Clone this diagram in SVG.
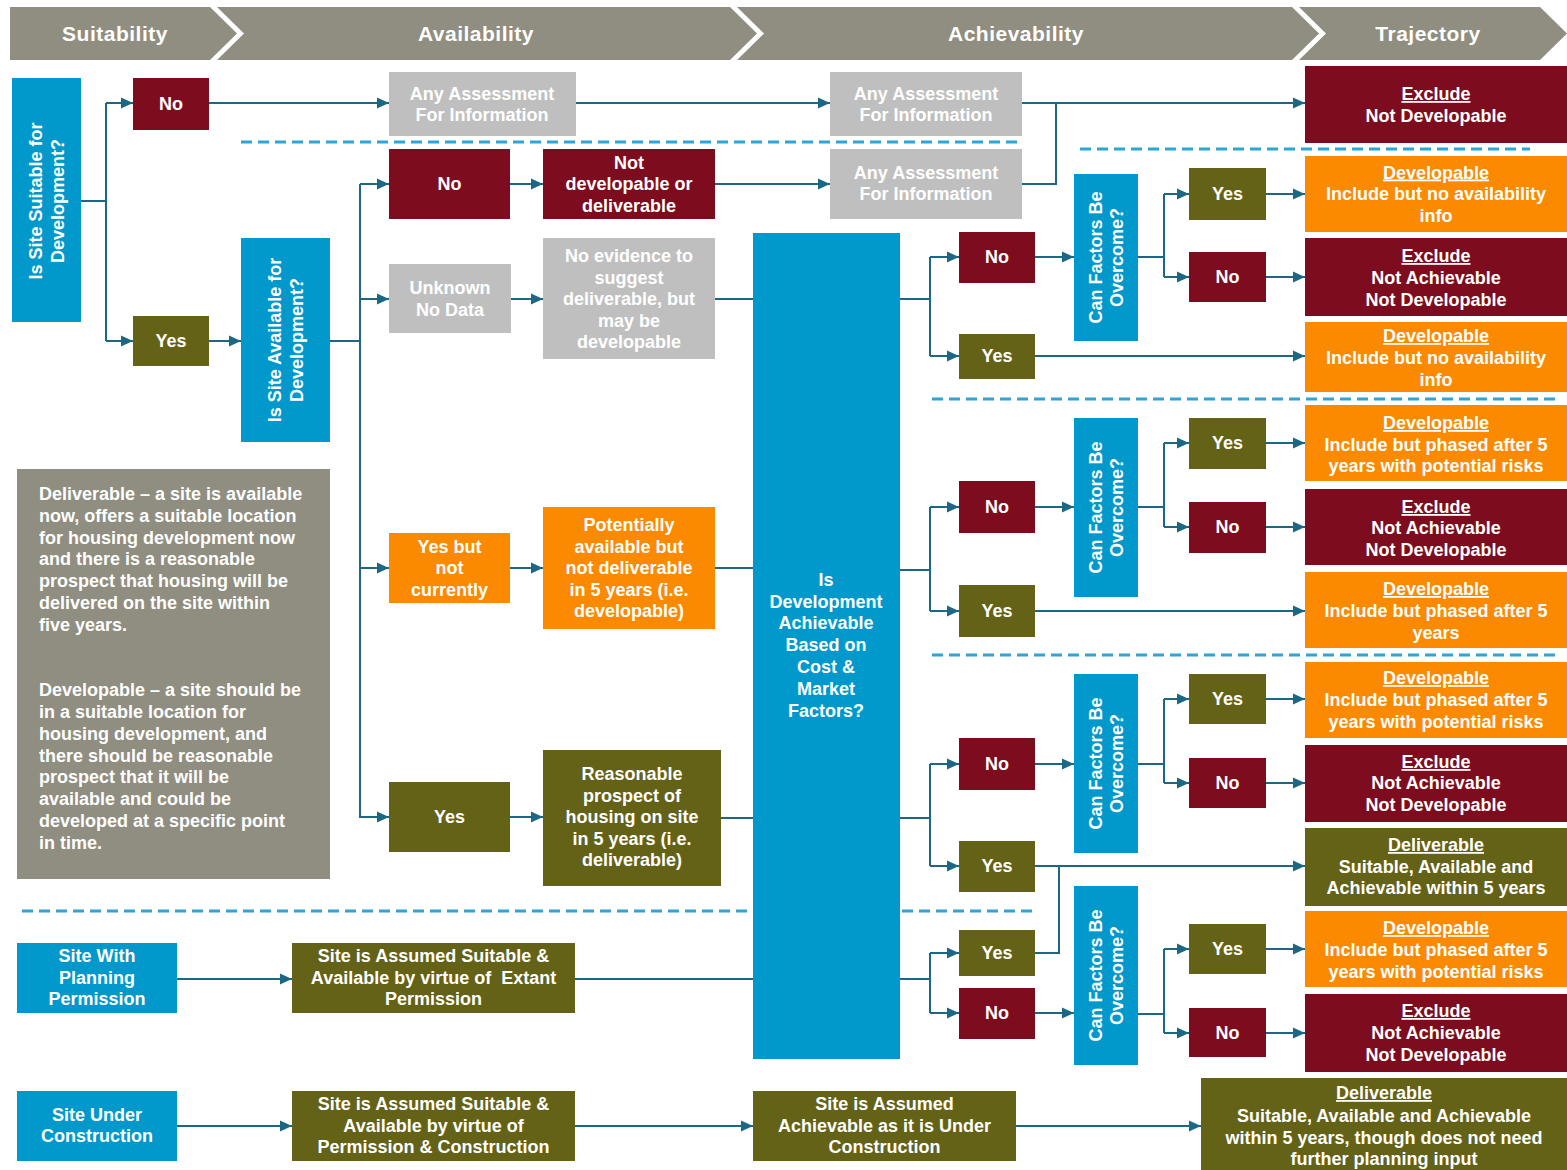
<svg xmlns="http://www.w3.org/2000/svg" width="1567" height="1170" viewBox="0 0 1567 1170">
<style>
.b{fill:#0199CB}.r{fill:#7D0D1E}.o{fill:#646217}.or{fill:#FB8A00}.g{fill:#BFBFBF}.lg{fill:#8F8E80}
text{font-family:"Liberation Sans",Arial,sans-serif;font-weight:bold;font-size:18px;fill:#FFFFFF}
.t{text-anchor:middle}
.h{font-size:21px;letter-spacing:0.5px;text-anchor:middle}
.u{text-decoration:underline}
.conn path{fill:none;stroke:#1C6884;stroke-width:2}
.conn path.a{marker-end:url(#ah)}
.dash line{stroke:#2BA6D7;stroke-width:3;stroke-dasharray:11 6}
</style>
<defs>
<marker id="ah" markerUnits="userSpaceOnUse" markerWidth="12" markerHeight="12" refX="12" refY="6" orient="auto">
<path d="M0,0.5 L12,6 L0,11.5 z" fill="#1C6884"/>
</marker>
</defs>
<rect width="1567" height="1170" fill="#FFFFFF"/>

<g id="header">
<path class="lg" d="M10,7 H210 L237,33.5 L210,60 H10 Z"/>
<path class="lg" d="M217,7 H730 L757,33.5 L730,60 H217 L244,33.5 Z"/>
<path class="lg" d="M737,7 H1292 L1319,33.5 L1292,60 H737 L764,33.5 Z"/>
<path class="lg" d="M1299,7 H1540 L1567,33.5 L1540,60 H1299 L1326,33.5 Z"/>
<text class="h" x="115" y="41">Suitability</text>
<text class="h" x="476" y="41">Availability</text>
<text class="h" x="1016" y="41">Achievability</text>
<text class="h" x="1428" y="41">Trajectory</text>
</g>

<g class="dash" id="dividers">
<line x1="241" y1="142" x2="1022" y2="142"/>
<line x1="1080" y1="149" x2="1530" y2="149"/>
<line x1="932" y1="399" x2="1555" y2="399"/>
<line x1="932" y1="655" x2="1555" y2="655"/>
<line x1="22" y1="911" x2="749" y2="911"/>
<line x1="902" y1="911" x2="1035" y2="911"/>
</g>

<g class="conn" id="connectors">
<path d="M81,201 H106 M106,103 V341"/>
<path class="a" d="M106,103 H133"/>
<path class="a" d="M106,341 H133"/>
<path class="a" d="M209,341 H241"/>
<path class="a" d="M209,103 H389"/>
<path class="a" d="M576,103 H830"/>
<path class="a" d="M1022,103 H1305"/>
<path d="M1022,184 H1056 V103"/>
<path d="M330,341 H360 M360,184 V818"/>
<path class="a" d="M360,184 H389"/>
<path class="a" d="M360,299 H389"/>
<path class="a" d="M360,568 H389"/>
<path class="a" d="M360,817 H389"/>
<path class="a" d="M510,184 H543"/>
<path class="a" d="M715,184 H830"/>
<path class="a" d="M511,299 H543"/>
<path d="M715,299 H753"/>
<path class="a" d="M510,568 H543"/>
<path d="M715,568 H753"/>
<path class="a" d="M510,817 H543"/>
<path d="M721,818 H753"/>
<!-- group 1 -->
<path d="M900,299 H930 M930,257 V356"/>
<path class="a" d="M930,257 H959"/>
<path class="a" d="M930,356 H959"/>
<path class="a" d="M1035,257 H1074"/>
<path d="M1138,257 H1164 M1164,194 V277"/>
<path class="a" d="M1164,194 H1189"/>
<path class="a" d="M1164,277 H1189"/>
<path class="a" d="M1266,194 H1305"/>
<path class="a" d="M1266,277 H1305"/>
<path class="a" d="M1035,356 H1305"/>
<!-- group 2 -->
<path d="M900,570 H930 M930,507 V611"/>
<path class="a" d="M930,507 H959"/>
<path class="a" d="M930,611 H959"/>
<path class="a" d="M1035,507 H1074"/>
<path d="M1138,507 H1164 M1164,443 V527"/>
<path class="a" d="M1164,443 H1189"/>
<path class="a" d="M1164,527 H1189"/>
<path class="a" d="M1266,443 H1305"/>
<path class="a" d="M1266,527 H1305"/>
<path class="a" d="M1035,611 H1305"/>
<!-- group 3 -->
<path d="M900,818 H930 M930,764 V866"/>
<path class="a" d="M930,764 H959"/>
<path class="a" d="M930,866 H959"/>
<path class="a" d="M1035,764 H1074"/>
<path d="M1138,764 H1164 M1164,699 V783"/>
<path class="a" d="M1164,699 H1189"/>
<path class="a" d="M1164,783 H1189"/>
<path class="a" d="M1266,699 H1305"/>
<path class="a" d="M1266,783 H1305"/>
<path class="a" d="M1035,866 H1305"/>
<!-- group 4 -->
<path d="M900,979 H930 M930,953 V1013"/>
<path class="a" d="M930,953 H959"/>
<path class="a" d="M930,1013 H959"/>
<path d="M1035,953 H1059 V866"/>
<path class="a" d="M1035,1013 H1074"/>
<path d="M1138,1014 H1164 M1164,949 V1033"/>
<path class="a" d="M1164,949 H1189"/>
<path class="a" d="M1164,1033 H1189"/>
<path class="a" d="M1266,949 H1305"/>
<path class="a" d="M1266,1033 H1305"/>
<!-- bottom rows -->
<path class="a" d="M177,979 H292"/>
<path d="M575,979 H753"/>
<path class="a" d="M177,1126 H292"/>
<path class="a" d="M575,1126 H753"/>
<path class="a" d="M1016,1126 H1201"/>
</g>

<g id="n_suitable">
<rect class="b" x="12" y="78" width="69" height="244"/>
<text class="t" transform="translate(46.5,201) rotate(-90)"><tspan x="0" y="-4.5">Is Site Suitable for</tspan><tspan x="0" y="17">Development?</tspan></text>
</g>
<g id="n_no1"><rect class="r" x="133" y="78" width="76" height="52"/><text class="t" x="171" y="110">No</text></g>
<g id="n_yes1"><rect class="o" x="133" y="316" width="76" height="50"/><text class="t" x="171" y="347">Yes</text></g>
<g id="n_available">
<rect class="b" x="241" y="238" width="89" height="204"/>
<text class="t" transform="translate(285.5,340) rotate(-90)"><tspan x="0" y="-4.5">Is Site Available for</tspan><tspan x="0" y="17">Development?</tspan></text>
</g>
<g id="n_any1"><rect class="g" x="389" y="72" width="187" height="64"/><text class="t"><tspan x="482" y="99.5">Any Assessment</tspan><tspan x="482" y="121">For Information</tspan></text></g>
<g id="n_no2"><rect class="r" x="389" y="149" width="121" height="70"/><text class="t" x="449.5" y="190">No</text></g>
<g id="n_notdev"><rect class="r" x="543" y="149" width="172" height="70"/><text class="t"><tspan x="629" y="168.5">Not</tspan><tspan x="629" y="190">developable or</tspan><tspan x="629" y="211.5">deliverable</tspan></text></g>
<g id="n_unknown"><rect class="g" x="389" y="264" width="122" height="69"/><text class="t"><tspan x="450" y="294">Unknown</tspan><tspan x="450" y="315.5">No Data</tspan></text></g>
<g id="n_noevidence"><rect class="g" x="543" y="238" width="172" height="121"/><text class="t"><tspan x="629" y="262">No evidence to</tspan><tspan x="629" y="283.5">suggest</tspan><tspan x="629" y="305">deliverable, but</tspan><tspan x="629" y="326.5">may be</tspan><tspan x="629" y="348">developable</tspan></text></g>
<g id="n_yesbut"><rect class="or" x="389" y="533" width="121" height="70"/><text class="t"><tspan x="449.5" y="552.5">Yes but</tspan><tspan x="449.5" y="574">not</tspan><tspan x="449.5" y="595.5">currently</tspan></text></g>
<g id="n_potential"><rect class="or" x="543" y="507" width="172" height="122"/><text class="t"><tspan x="629" y="531">Potentially</tspan><tspan x="629" y="552.5">available but</tspan><tspan x="629" y="574">not deliverable</tspan><tspan x="629" y="595.5">in 5 years (i.e.</tspan><tspan x="629" y="617">developable)</tspan></text></g>
<g id="n_yes2"><rect class="o" x="389" y="782" width="121" height="70"/><text class="t" x="449.5" y="823">Yes</text></g>
<g id="n_reasonable"><rect class="o" x="543" y="750" width="178" height="136"/><text class="t"><tspan x="632" y="780">Reasonable</tspan><tspan x="632" y="801.5">prospect of</tspan><tspan x="632" y="823">housing on site</tspan><tspan x="632" y="844.5">in 5 years (i.e.</tspan><tspan x="632" y="866">deliverable)</tspan></text></g>
<g id="n_legend"><rect class="lg" x="17" y="469" width="313" height="410"/>
<text><tspan x="39" y="500">Deliverable – a site is available</tspan><tspan x="39" y="522">now, offers a suitable location</tspan><tspan x="39" y="543.5">for housing development now</tspan><tspan x="39" y="565">and there is a reasonable</tspan><tspan x="39" y="587">prospect that housing will be</tspan><tspan x="39" y="609">delivered on the site within</tspan><tspan x="39" y="631">five years.</tspan><tspan x="39" y="696">Developable – a site should be</tspan><tspan x="39" y="718">in a suitable location for</tspan><tspan x="39" y="740">housing development, and</tspan><tspan x="39" y="761.5">there should be reasonable</tspan><tspan x="39" y="783">prospect that it will be</tspan><tspan x="39" y="805">available and could be</tspan><tspan x="39" y="827">developed at a specific point</tspan><tspan x="39" y="848.5">in time.</tspan></text></g>
<g id="n_any3"><rect class="g" x="830" y="72" width="192" height="64"/><text class="t"><tspan x="926" y="99.5">Any Assessment</tspan><tspan x="926" y="121">For Information</tspan></text></g>
<g id="n_any2"><rect class="g" x="830" y="149" width="192" height="70"/><text class="t"><tspan x="926" y="178.5">Any Assessment</tspan><tspan x="926" y="200">For Information</tspan></text></g>
<g id="n_exclude0"><rect class="r" x="1305" y="66" width="262" height="77"/><text class="t"><tspan class="u" x="1436" y="100">Exclude</tspan><tspan x="1436" y="122">Not Developable</tspan></text></g>
<g id="n_achievable"><rect class="b" x="753" y="233" width="147" height="826"/><text class="t"><tspan x="826" y="586">Is</tspan><tspan x="826" y="607.5">Development</tspan><tspan x="826" y="629">Achievable</tspan><tspan x="826" y="651">Based on</tspan><tspan x="826" y="673">Cost &amp;</tspan><tspan x="826" y="695">Market</tspan><tspan x="826" y="717">Factors?</tspan></text></g>

<!-- group 1 -->
<g id="g1_no"><rect class="r" x="959" y="232" width="76" height="51"/><text class="t" x="997" y="263">No</text></g>
<g id="g1_yes"><rect class="o" x="959" y="334" width="76" height="45"/><text class="t" x="997" y="362">Yes</text></g>
<g id="g1_can"><rect class="b" x="1074" y="174" width="64" height="167"/><text class="t" transform="translate(1106,257.5) rotate(-90)"><tspan x="0" y="-4.5">Can Factors Be</tspan><tspan x="0" y="17">Overcome?</tspan></text></g>
<g id="g1_yes2"><rect class="o" x="1189" y="168" width="77" height="52"/><text class="t" x="1227.5" y="200">Yes</text></g>
<g id="g1_no2"><rect class="r" x="1189" y="252" width="77" height="50"/><text class="t" x="1227.5" y="283">No</text></g>
<g id="t1a"><rect class="or" x="1305" y="156" width="262" height="76"/><text class="t"><tspan class="u" x="1436" y="178.5">Developable</tspan><tspan x="1436" y="200">Include but no availability</tspan><tspan x="1436" y="221.5">info</tspan></text></g>
<g id="t1b"><rect class="r" x="1305" y="238" width="262" height="78"/><text class="t"><tspan class="u" x="1436" y="262">Exclude</tspan><tspan x="1436" y="284">Not Achievable</tspan><tspan x="1436" y="305.5">Not Developable</tspan></text></g>
<g id="t1c"><rect class="or" x="1305" y="322" width="262" height="70"/><text class="t"><tspan class="u" x="1436" y="342">Developable</tspan><tspan x="1436" y="364">Include but no availability</tspan><tspan x="1436" y="385.5">info</tspan></text></g>

<!-- group 2 -->
<g id="g2_no"><rect class="r" x="959" y="481" width="76" height="52"/><text class="t" x="997" y="513">No</text></g>
<g id="g2_yes"><rect class="o" x="959" y="585" width="76" height="52"/><text class="t" x="997" y="617">Yes</text></g>
<g id="g2_can"><rect class="b" x="1074" y="418" width="64" height="179"/><text class="t" transform="translate(1106,507.5) rotate(-90)"><tspan x="0" y="-4.5">Can Factors Be</tspan><tspan x="0" y="17">Overcome?</tspan></text></g>
<g id="g2_yes2"><rect class="o" x="1189" y="418" width="77" height="51"/><text class="t" x="1227.5" y="449">Yes</text></g>
<g id="g2_no2"><rect class="r" x="1189" y="502" width="77" height="51"/><text class="t" x="1227.5" y="533">No</text></g>
<g id="t2a"><rect class="or" x="1305" y="405" width="262" height="76"/><text class="t"><tspan class="u" x="1436" y="429">Developable</tspan><tspan x="1436" y="450.5">Include but phased after 5</tspan><tspan x="1436" y="472">years with potential risks</tspan></text></g>
<g id="t2b"><rect class="r" x="1305" y="489" width="262" height="76"/><text class="t"><tspan class="u" x="1436" y="513">Exclude</tspan><tspan x="1436" y="534">Not Achievable</tspan><tspan x="1436" y="556">Not Developable</tspan></text></g>
<g id="t2c"><rect class="or" x="1305" y="572" width="262" height="76"/><text class="t"><tspan class="u" x="1436" y="595">Developable</tspan><tspan x="1436" y="617">Include but phased after 5</tspan><tspan x="1436" y="639">years</tspan></text></g>

<!-- group 3 -->
<g id="g3_no"><rect class="r" x="959" y="738" width="76" height="52"/><text class="t" x="997" y="770">No</text></g>
<g id="g3_yes"><rect class="o" x="959" y="841" width="76" height="51"/><text class="t" x="997" y="872">Yes</text></g>
<g id="g3_can"><rect class="b" x="1074" y="674" width="64" height="179"/><text class="t" transform="translate(1106,763.5) rotate(-90)"><tspan x="0" y="-4.5">Can Factors Be</tspan><tspan x="0" y="17">Overcome?</tspan></text></g>
<g id="g3_yes2"><rect class="o" x="1189" y="674" width="77" height="50"/><text class="t" x="1227.5" y="705">Yes</text></g>
<g id="g3_no2"><rect class="r" x="1189" y="758" width="77" height="50"/><text class="t" x="1227.5" y="789">No</text></g>
<g id="t3a"><rect class="or" x="1305" y="662" width="262" height="76"/><text class="t"><tspan class="u" x="1436" y="684">Developable</tspan><tspan x="1436" y="706">Include but phased after 5</tspan><tspan x="1436" y="728">years with potential risks</tspan></text></g>
<g id="t3b"><rect class="r" x="1305" y="745" width="262" height="77"/><text class="t"><tspan class="u" x="1436" y="768">Exclude</tspan><tspan x="1436" y="789">Not Achievable</tspan><tspan x="1436" y="811">Not Developable</tspan></text></g>
<g id="t3c"><rect class="o" x="1305" y="828" width="262" height="78"/><text class="t"><tspan class="u" x="1436" y="851">Deliverable</tspan><tspan x="1436" y="873">Suitable, Available and</tspan><tspan x="1436" y="894">Achievable within 5 years</tspan></text></g>

<!-- group 4 -->
<g id="g4_yes"><rect class="o" x="959" y="930" width="76" height="46"/><text class="t" x="997" y="959">Yes</text></g>
<g id="g4_no"><rect class="r" x="959" y="988" width="76" height="51"/><text class="t" x="997" y="1019">No</text></g>
<g id="g4_can"><rect class="b" x="1074" y="886" width="64" height="179"/><text class="t" transform="translate(1106,975.5) rotate(-90)"><tspan x="0" y="-4.5">Can Factors Be</tspan><tspan x="0" y="17">Overcome?</tspan></text></g>
<g id="g4_yes2"><rect class="o" x="1189" y="924" width="77" height="50"/><text class="t" x="1227.5" y="955">Yes</text></g>
<g id="g4_no2"><rect class="r" x="1189" y="1008" width="77" height="49"/><text class="t" x="1227.5" y="1039">No</text></g>
<g id="t4a"><rect class="or" x="1305" y="911" width="262" height="76"/><text class="t"><tspan class="u" x="1436" y="934">Developable</tspan><tspan x="1436" y="956">Include but phased after 5</tspan><tspan x="1436" y="978">years with potential risks</tspan></text></g>
<g id="t4b"><rect class="r" x="1305" y="994" width="262" height="78"/><text class="t"><tspan class="u" x="1436" y="1017">Exclude</tspan><tspan x="1436" y="1039">Not Achievable</tspan><tspan x="1436" y="1061">Not Developable</tspan></text></g>

<!-- bottom rows -->
<g id="n_planning"><rect class="b" x="17" y="943" width="160" height="70"/><text class="t"><tspan x="97" y="962">Site With</tspan><tspan x="97" y="984">Planning</tspan><tspan x="97" y="1005">Permission</tspan></text></g>
<g id="n_extant"><rect class="o" x="292" y="943" width="283" height="70"/><text class="t"><tspan x="433.5" y="962">Site is Assumed Suitable &amp;</tspan><tspan x="433.5" y="984">Available by virtue of&#160; Extant</tspan><tspan x="433.5" y="1005">Permission</tspan></text></g>
<g id="n_underconstruction"><rect class="b" x="17" y="1091" width="160" height="70"/><text class="t"><tspan x="97" y="1121">Site Under</tspan><tspan x="97" y="1142">Construction</tspan></text></g>
<g id="n_permconst"><rect class="o" x="292" y="1091" width="283" height="70"/><text class="t"><tspan x="433.5" y="1110">Site is Assumed Suitable &amp;</tspan><tspan x="433.5" y="1132">Available by virtue of</tspan><tspan x="433.5" y="1153">Permission &amp; Construction</tspan></text></g>
<g id="n_achconst"><rect class="o" x="753" y="1091" width="263" height="70"/><text class="t"><tspan x="884.5" y="1110">Site is Assumed</tspan><tspan x="884.5" y="1132">Achievable as it is Under</tspan><tspan x="884.5" y="1153">Construction</tspan></text></g>
<g id="n_deliverable2"><rect class="o" x="1201" y="1078" width="366" height="92"/><text class="t"><tspan class="u" x="1384" y="1099">Deliverable</tspan><tspan x="1384" y="1122">Suitable, Available and Achievable</tspan><tspan x="1384" y="1144">within 5 years, though does not need</tspan><tspan x="1384" y="1165">further planning input</tspan></text></g>
</svg>
